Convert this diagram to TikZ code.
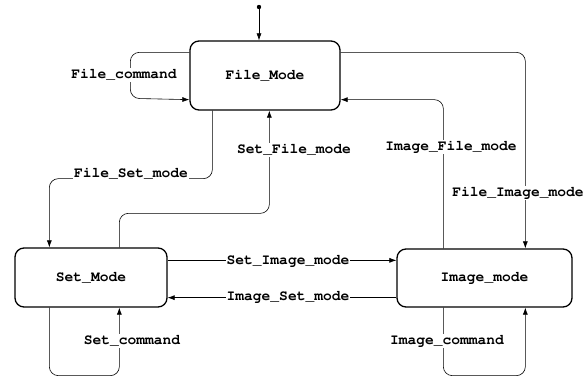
\documentclass[tikz,border=0pt]{standalone}
\usepackage[T1]{fontenc}
\usepackage{courier}
\usepackage{tikz}
\usetikzlibrary{arrows.meta, calc, positioning}

\tikzset{
  state/.style={draw, line width=1.3pt, rounded corners=9pt, font=\ttfamily\bfseries\fontsize{14.6}{16}\selectfont},
  edge/.style={->, >={Latex[length=7pt,width=5pt]}, line width=0.6pt, rounded corners=9pt},
  lbl/.style={fill=white, inner sep=1pt, font=\ttfamily\bfseries\fontsize{14.6}{16}\selectfont},
}

\begin{document}
\begin{tikzpicture}[x=1pt, y=-1pt]
            \useasboundingbox (0,0) rectangle (587,377);
            % states
            \node[state, minimum width=150pt, minimum height=69pt] (file) at (265,75.5) {File\_Mode};
            \node[state, minimum width=152pt, minimum height=59pt] (set) at (91,277.5) {Set\_Mode};
            \node[state, minimum width=175pt, minimum height=58pt] (image) at (484.5,278) {Image\_mode};
            % start
            \fill (259,7) circle (2.2pt) coordinate (init);
            \draw[edge] (init) -- (init |- file.north);
            % file <-> file
            \draw[edge] ([yshift=-12pt]file.north west) -- ++(-59,0) -- ++(0,46) -- ([yshift=11pt]file.south west);
            % file -> set, set -> file
            \draw[edge] ([xshift=23pt]file.south west) -- ++(0,68) -| ([xshift=35pt]set.north west);
            \draw[edge] ([xshift=105pt]set.north west) -- ++(0,-34) -| ([xshift=80pt]file.south west);
            % image -> file, file -> image
            \draw[edge] ([xshift=47pt]image.north west) |- ([yshift=11pt]file.south east);
            \draw[edge] ([yshift=-12pt]file.north east) -| ([xshift=129pt]image.north west);
            % set <-> image
            \coordinate (si) at ([yshift=-13pt]set.north east);
            \coordinate (is) at ([yshift=10pt]set.south east);
            \draw[edge] (si) -- (si -| image.west);
            \draw[edge] (is -| image.west) -- (is);
            % self loops below
            \draw[edge] ([xshift=35pt]set.south west) -- ++(0,68) -| ([xshift=105pt]set.south west);
            \draw[edge] ([xshift=47pt]image.south west) -- ++(0,68) -| ([xshift=129pt]image.south west);
            % labels
            \node[lbl] (lfc) at (124,75) {File\_command};
            \node[lbl] (lfs) at (131,174) {File\_Set\_mode};
            \node[lbl] (lsf) at (294,150) {Set\_File\_mode};
            \node[lbl] (lif) at (451,147) {Image\_File\_mode};
            \node[lbl] (lfi) at (518,193) {File\_Image\_mode};
            \node[lbl] (lsi) at (288,260.5) {Set\_Image\_mode};
            \node[lbl] (lis) at (288,297) {Image\_Set\_mode};
            \node[lbl] (lsc) at (132,341) {Set\_command};
            \node[lbl] (lic) at (447,341) {Image\_command};
        \end{tikzpicture}
\end{document}
